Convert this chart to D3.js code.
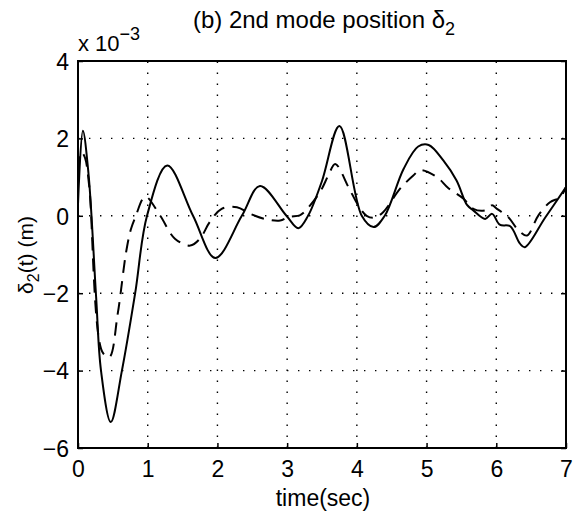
<!DOCTYPE html>
<html>
<head>
<meta charset="utf-8">
<script src="https://cdn.jsdelivr.net/npm/d3@7"></script>
<style>
  body { margin: 0; background: #fff; }
  svg { font-family: "Liberation Sans", Arial, Helvetica, sans-serif; }
</style>
</head>
<body>
<svg id="chart" width="574" height="514"></svg>
<script>
// values, y in units of 1e-3 m
const xTicks = [0, 1, 2, 3, 4, 5, 6, 7];
const yTicks = [-6, -4, -2, 0, 2, 4];

const solidT = [0, 0.07, 0.15, 0.26, 0.33, 0.47, 0.63, 0.82, 0.99, 1.28, 1.65, 1.97, 2.35, 2.61, 2.99, 3.16, 3.3, 3.5, 3.75, 4.07, 4.24, 4.4, 4.67, 4.88, 5.03, 5.24, 5.43, 5.58, 5.67, 5.84, 5.94, 6.05, 6.2, 6.34, 6.41, 6.7, 7.0];
const solidY = [0.3, 2.2, 1.1, -2.1, -4.0, -5.33, -4.0, -2.0, 0.0, 1.3, 0.0, -1.09, 0.0, 0.77, 0.0, -0.32, 0.0, 0.9, 2.32, 0.0, -0.29, 0.0, 1.21, 1.79, 1.83, 1.43, 0.91, 0.28, 0.14, -0.08, 0.05, -0.23, -0.27, -0.72, -0.81, -0.05, 0.74];

const dashT = [0, 0.05, 0.1, 0.16, 0.35, 0.45, 0.57, 0.69, 0.76, 0.83, 0.93, 0.98, 1.18, 1.39, 1.61, 1.75, 1.89, 2.06, 2.28, 2.47, 2.68, 2.9, 3.02, 3.18, 3.23, 3.47, 3.59, 3.69, 3.88, 4.02, 4.14, 4.25, 4.38, 4.62, 4.81, 4.91, 5.15, 5.31, 5.53, 5.67, 5.84, 5.94, 6.01, 6.17, 6.32, 6.44, 6.6, 6.77, 6.92, 7.0];
const dashY = [1.2, 1.65, 1.5, 0.78, -3.52, -3.65, -2.53, -0.94, -0.34, 0.0, 0.44, 0.49, 0.0, -0.59, -0.77, -0.59, -0.16, 0.18, 0.22, 0.05, -0.08, -0.12, -0.03, 0.01, 0.07, 0.61, 1.04, 1.34, 0.74, 0.27, 0.0, -0.05, 0.1, 0.7, 1.04, 1.18, 1.0, 0.72, 0.44, 0.18, 0.14, 0.27, 0.18, -0.03, -0.38, -0.51, 0.0, 0.35, 0.48, 0.75];

const margin = { top: 61, right: 8, bottom: 66, left: 78 };
const width = 574, height = 514;

const svg = d3.select('#chart');

const x = d3.scaleLinear().domain([0, 7]).range([margin.left, width - margin.right]);
const y = d3.scaleLinear().domain([-6, 4]).range([height - margin.bottom, margin.top]);

// dotted grid
const grid = svg.append('g').attr('stroke', '#000').attr('stroke-width', 1.4)
  .attr('stroke-dasharray', '1.4,9.6');
grid.selectAll('.gx').data(xTicks.slice(1, -1)).enter().append('line')
  .attr('x1', d => x(d)).attr('x2', d => x(d))
  .attr('y1', y(-6)).attr('y2', y(4));
grid.selectAll('.gy').data(yTicks.slice(1, -1)).enter().append('line')
  .attr('x1', x(0)).attr('x2', x(7))
  .attr('y1', d => y(d)).attr('y2', d => y(d));

// curves
const line = d3.line().curve(d3.curveCatmullRom.alpha(0.5));
const solidPts = solidT.map((t, i) => [x(t), y(solidY[i])]);
const dashPts = dashT.map((t, i) => [x(t), y(dashY[i])]);

svg.append('path').attr('d', line(dashPts))
  .attr('fill', 'none').attr('stroke', '#000').attr('stroke-width', 2)
  .attr('stroke-dasharray', '13,8');
svg.append('path').attr('d', line(solidPts))
  .attr('fill', 'none').attr('stroke', '#000').attr('stroke-width', 2);

// box + ticks
svg.append('rect')
  .attr('x', x(0)).attr('y', y(4))
  .attr('width', x(7) - x(0)).attr('height', y(-6) - y(4))
  .attr('fill', 'none').attr('stroke', '#000').attr('stroke-width', 2);

const xAxis = d3.axisBottom(x).tickValues(xTicks).tickSize(-5).tickPadding(13).tickFormat(d3.format('d'));
const yAxis = d3.axisLeft(y).tickValues(yTicks).tickSize(-5).tickPadding(9).tickFormat(d => d < 0 ? '\u2212' + Math.abs(d) : d);

const gx = svg.append('g').attr('transform', `translate(0,${y(-6)})`).call(xAxis);
const gy = svg.append('g').attr('transform', `translate(${x(0)},0)`).call(yAxis);
[gx, gy].forEach(g => {
  g.select('.domain').remove();
  g.selectAll('line').attr('stroke', '#000').attr('stroke-width', 1.5);
  g.selectAll('text').attr('fill', '#000').attr('font-size', 23)
    .attr('font-family', '"Liberation Sans", Arial, sans-serif');
});
gx.selectAll('text').attr('dy', '0.71em');
gy.selectAll('text').attr('dy', '0.36em');
// right side ticks
svg.append('g').attr('transform', `translate(${x(7)},0)`)
  .call(d3.axisRight(y).tickValues(yTicks).tickSize(-5).tickFormat(''))
  .call(g => g.select('.domain').remove())
  .selectAll('line').attr('stroke', '#000').attr('stroke-width', 1.5);

// title
const title = svg.append('text').attr('x', 324).attr('y', 28)
  .attr('text-anchor', 'middle').attr('font-size', 24);
title.append('tspan').text('(b) 2nd mode position \u03b4');
title.append('tspan').attr('font-size', 18).attr('dy', 7).text('2');

// exponent
const expo = svg.append('text').attr('x', 78).attr('y', 51).attr('font-size', 22);
expo.append('tspan').text('x 10');
expo.append('tspan').attr('font-size', 18).attr('dy', -11).text('\u22123');

// axis labels
svg.append('text').attr('x', 323).attr('y', 506)
  .attr('text-anchor', 'middle').attr('font-size', 23).text('time(sec)');

const yl = svg.append('text')
  .attr('transform', `translate(33,255) rotate(-90)`)
  .attr('text-anchor', 'middle').attr('font-size', 21);
yl.append('tspan').text('\u03b4');
yl.append('tspan').attr('font-size', 16).attr('dy', 6).text('2');
yl.append('tspan').attr('dy', -6).text('(t) (m)');
</script>
</body>
</html>
